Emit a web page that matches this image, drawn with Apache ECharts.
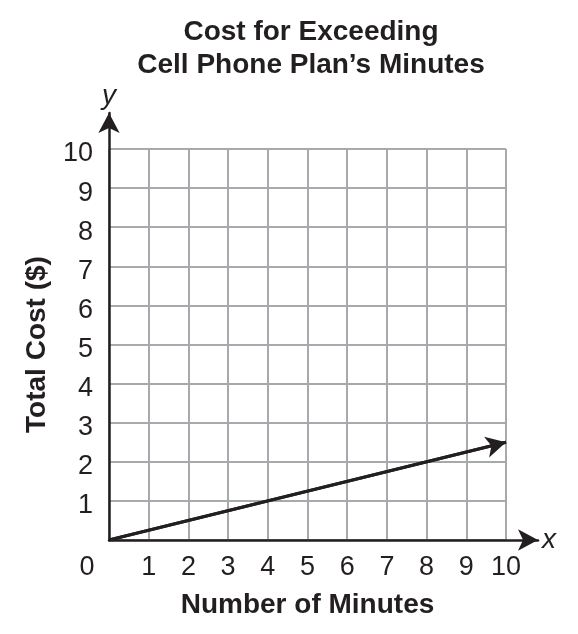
<!DOCTYPE html>
<html><head><meta charset="utf-8">
<script src="https://cdn.jsdelivr.net/npm/echarts@6/dist/echarts.min.js"></script>
<style>html,body{margin:0;padding:0;background:#fff}#c{width:578px;height:634px}</style>
</head><body><div id="c"></div>
<script>
var xTicks = [0,1,2,3,4,5,6,7,8,9,10];
var yTicks = [1,2,3,4,5,6,7,8,9,10];
var minutes = [0, 10];
var cost = [0, 2.5];
var ink = '#231f20';
var gridCol = '#a7a9ac';
var font = 'Liberation Sans, Arial, sans-serif';
var chart = echarts.init(document.getElementById('c'));
chart.setOption({
  backgroundColor: '#fff',
  animation: false,
  title: {
    text: 'Cost for Exceeding\nCell Phone Plan\u2019s Minutes',
    left: 306, top: 11, textAlign: 'center',
    textStyle: {fontFamily: font, fontWeight: 'bold', fontSize: 28, lineHeight: 33, color: ink}
  },
  grid: [
    {left: 109, right: 72, top: 149, bottom: 94},
    {left: 109, right: 40, top: 113, bottom: 94}
  ],
  xAxis: [
    {type: 'value', gridIndex: 0, min: 0, max: 10, interval: 1,
     axisLine: {show: false}, axisTick: {show: false},
     splitLine: {show: true, lineStyle: {color: gridCol, width: 2}},
     axisLabel: {customValues: xTicks, margin: 14, fontFamily: font, fontSize: 27, color: ink,
       formatter: function(v){ return v === 0 ? '{z|0}' : String(v); },
       rich: {z: {fontFamily: font, fontSize: 27, color: ink, padding: [0, 44, 0, 0]}}},
     name: 'Number of Minutes', nameLocation: 'middle', nameGap: 51,
     nameTextStyle: {fontFamily: font, fontWeight: 'bold', fontSize: 28, color: ink}},
    {type: 'value', gridIndex: 1, min: 0, max: 10.8,
     axisLine: {show: true, symbol: ['none', 'arrow'], symbolSize: [16, 20], lineStyle: {color: ink, width: 2.5}},
     axisTick: {show: false}, axisLabel: {show: false}, splitLine: {show: false},
     name: 'x', nameLocation: 'end', nameGap: 4,
     nameTextStyle: {fontFamily: font, fontStyle: 'italic', fontSize: 28, color: ink, verticalAlign: 'middle'}}
  ],
  yAxis: [
    {type: 'value', gridIndex: 0, min: 0, max: 10, interval: 1,
     axisLine: {show: false}, axisTick: {show: false},
     splitLine: {show: true, lineStyle: {color: gridCol, width: 2}},
     axisLabel: {customValues: yTicks, margin: 16, fontFamily: font, fontSize: 27, color: ink,
       formatter: function(v){ return '{n|' + v + '}'; },
       rich: {n: {fontFamily: font, fontSize: 27, color: ink, padding: [10, 0, 0, 0]}}},
     name: 'Total Cost ($)', nameLocation: 'middle', nameGap: 58,
     nameTextStyle: {fontFamily: font, fontWeight: 'bold', fontSize: 28, color: ink}},
    {type: 'value', gridIndex: 1, min: 0, max: 10.92,
     axisLine: {show: true, symbol: ['none', 'arrow'], symbolSize: [16, 20], lineStyle: {color: ink, width: 2.5}},
     axisTick: {show: false}, axisLabel: {show: false}, splitLine: {show: false},
     name: 'y', nameLocation: 'end', nameGap: 3,
     nameTextStyle: {fontFamily: font, fontStyle: 'italic', fontSize: 28, color: ink, align: 'center'}}
  ],
  series: [{
    type: 'line', xAxisIndex: 0, yAxisIndex: 0,
    data: minutes.map(function(m, i){ return [m, cost[i]]; }),
    symbol: 'none', lineStyle: {color: ink, width: 3}, z: 5,
    markLine: {
      silent: true, symbol: ['none', 'arrow'], symbolSize: [16, 20],
      label: {show: false},
      lineStyle: {color: ink, width: 3, type: 'solid'},
      data: [[{coord: [minutes[0], cost[0]]}, {coord: [minutes[1], cost[1]]}]]
    }
  }]
});
</script></body></html>
